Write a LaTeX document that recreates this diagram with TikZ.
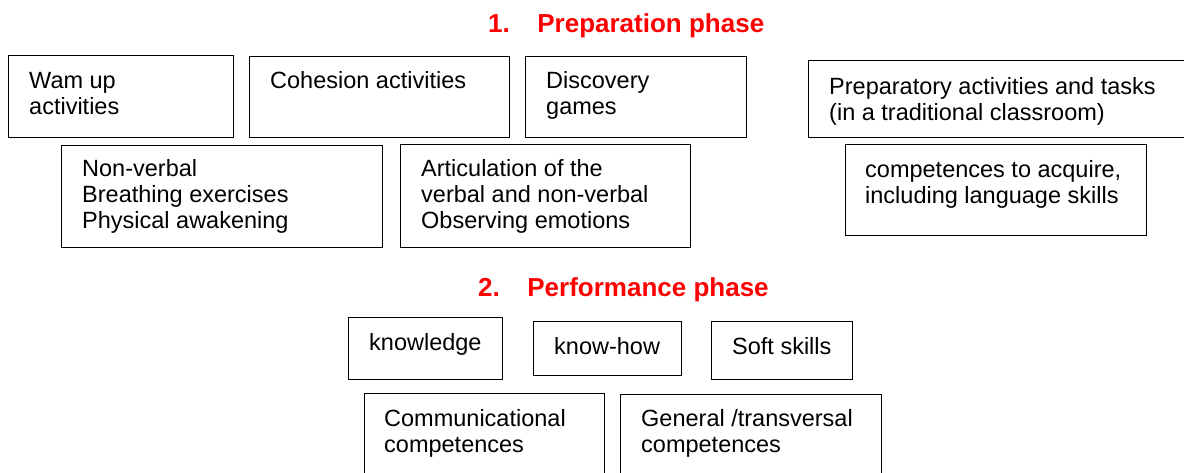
\documentclass[tikz,border=0pt]{standalone}
\usepackage{fontspec}
\setmainfont{Liberation Sans}
\tikzset{every node/.style={inner sep=0pt}}

\begin{document}
\begin{tikzpicture}[x=1pt,y=-1pt,
		box/.style={draw,line width=1.1pt,anchor=north west},
		txt/.style={anchor=base west,align=left,font=\fontsize{23.5}{26}\selectfont},
		phase/.style={anchor=base west,text=red,font=\fontsize{26}{30}\selectfont\bfseries}]
			% Fix the page
			\useasboundingbox (0,0) rectangle (1184,473);
			\clip (0,0) rectangle (1184,473);
			
			% Phase titles
			\node[phase] (prep) at (488,33) {1.\hspace{27.5pt}Preparation phase};
			\node[phase] (perf) at (478,296) {2.\hspace{27.5pt}Performance phase};
			
			% Draw boxes of the preparation phase
			\node[box,minimum width=225pt,minimum height=82pt] (wam) at (8,55) {};
			\node[box,minimum width=260pt,minimum height=81pt] (cohesion) at (249,56) {};
			\node[box,minimum width=221pt,minimum height=81pt] (discovery) at (525,56) {};
			\node[box,minimum width=321pt,minimum height=102pt] (nonverbal) at (61,145) {};
			\node[box,minimum width=290pt,minimum height=103pt] (articulation) at (400,144) {};
			\node[box,minimum width=390pt,minimum height=77pt] (preparatory) at (808,60) {};
			\node[box,minimum width=301pt,minimum height=91pt] (competences) at (845,144) {};
			
			% Draw boxes of the performance phase
			\node[box,minimum width=154pt,minimum height=62pt] (knowledge) at (348,317) {};
			\node[box,minimum width=148pt,minimum height=54pt] (knowhow) at (533,321) {};
			\node[box,minimum width=141pt,minimum height=58pt] (softskills) at (711,321) {};
			\node[box,minimum width=240pt,minimum height=100pt] (communicational) at (364,393) {};
			\node[box,minimum width=261pt,minimum height=100pt] (general) at (620,394) {};
			
			% Add labels (base = baseline of the last line)
			\node[txt] (wamtxt) at (29,115) {Wam up\\activities};
			\node[txt] (cohesiontxt) at (270,89) {Cohesion activities};
			\node[txt] (discoverytxt) at (546,115) {Discovery\\games};
			\node[txt] (nonverbaltxt) at (82,229) {Non-verbal\\Breathing exercises\\Physical awakening};
			\node[txt] (articulationtxt) at (421,229) {Articulation of the\\verbal and non-verbal\\Observing emotions};
			\node[txt] (preparatorytxt) at (829,121) {Preparatory activities and tasks\\(in a traditional classroom)};
			\node[txt] (competencestxt) at (865,204) {competences to acquire,\\including language skills};
			\node[txt] (knowledgetxt) at (369,350) {knowledge};
			\node[txt] (knowhowtxt) at (554,354) {know-how};
			\node[txt] (softskillstxt) at (732,354) {Soft skills};
			\node[txt] (communicationaltxt) at (384,452) {Communicational\\competences};
			\node[txt] (generaltxt) at (641,452) {General /transversal\\competences};
		\end{tikzpicture}
\end{document}
